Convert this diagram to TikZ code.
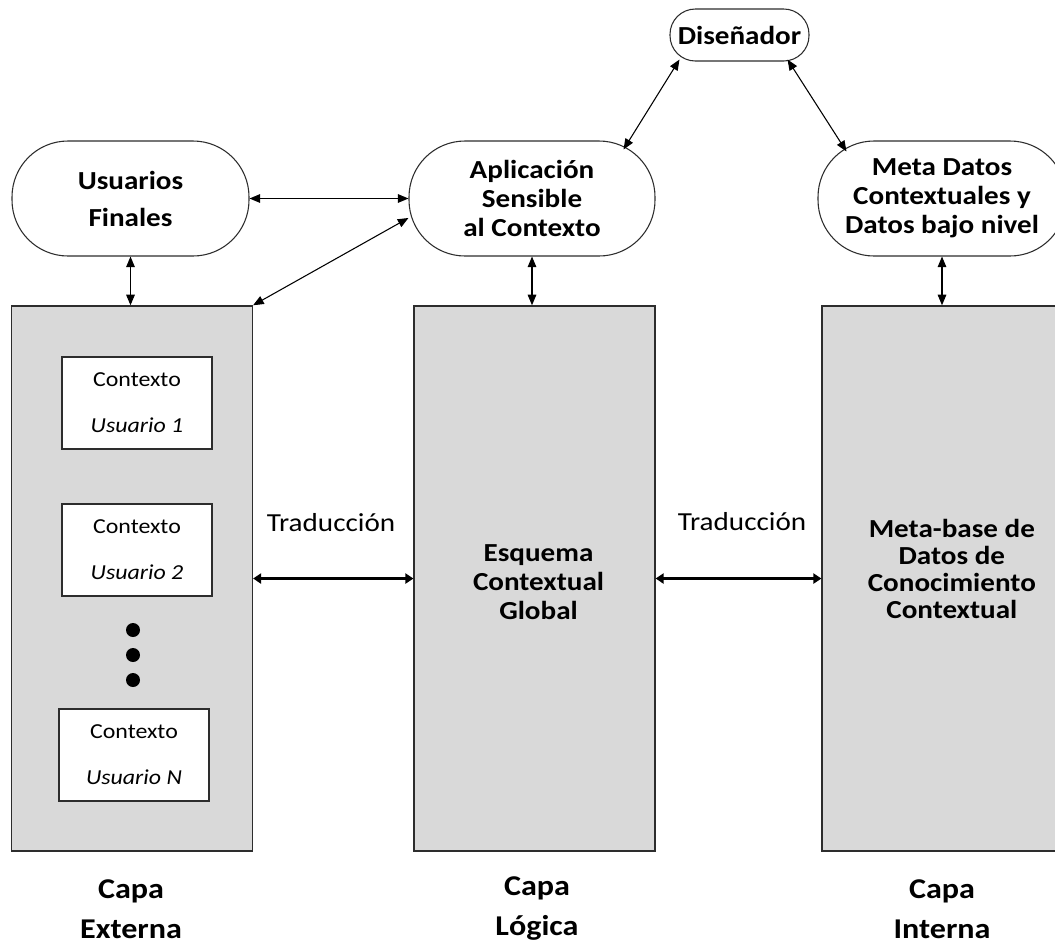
\documentclass[tikz,border=0pt]{standalone}
\usepackage{fontspec}
\setmainfont{Carlito}[FakeStretch=1.12]
\usetikzlibrary{arrows.meta}
\definecolor{layergray}{RGB}{217,217,217}
\definecolor{edgegray}{RGB}{45,45,45}
\begin{document}
\begin{tikzpicture}[x=0.75pt,y=-0.75pt,
  pill/.style={draw=edgegray, line width=0.8pt, fill=white, inner sep=0pt, align=center,
    minimum height=86.25pt, rounded corners=42pt,
    font=\bfseries\fontsize{19.5}{21.75}\selectfont},
  layer/.style={draw=edgegray, line width=1.1pt, fill=layergray, inner sep=0pt,
    minimum width=180.5pt, minimum height=408.75pt},
  layertext/.style={inner sep=0pt, align=center, font=\bfseries\fontsize{19.5}{21.75}\selectfont},
  ctxbox/.style={draw=edgegray, line width=1.1pt, fill=white, inner sep=0pt,
    minimum width=112.5pt, minimum height=69pt, align=center,
    font=\fontsize{16}{34.5}\selectfont},
  dotmark/.style={circle, fill=black, inner sep=0pt, minimum size=10.5pt},
  caption/.style={inner sep=0pt, align=center, font=\bfseries\fontsize{21.5}{30}\selectfont},
  transltext/.style={inner sep=0pt, font=\fontsize{19.5}{22}\selectfont},
  link/.style={draw=black, line width=0.8pt,
    {Triangle[length=8pt,width=6.5pt]}-{Triangle[length=8pt,width=6.5pt]}},
  transl/.style={draw=black, line width=1.6pt,
    {Triangle[length=6pt,width=7.5pt]}-{Triangle[length=6pt,width=7.5pt]}}
]
\useasboundingbox (0,0) rectangle (1055,947);

% upper row: actors and applications
\node[pill, minimum width=104.25pt, minimum height=39pt, rounded corners=19pt] (dis) at (739.5,35) {Diseñador};
\node[pill, minimum width=177.75pt, font=\bfseries\fontsize{19.5}{27.75}\selectfont] (uf) at (130.5,198.5) {Usuarios\\Finales};
\node[pill, minimum width=184.5pt] (app) at (532,198.5) {Aplicación\\Sensible\\al Contexto};
\node[pill, minimum width=186pt] (meta) at (942,198.5) {Meta Datos\\Contextuales y\\Datos bajo nivel};

% the three layers
\node[layer] (ext) at (132,578.5) {};
\node[layer] (log) at (534.5,578.5) {};
\node[layer] (int) at (942.5,578.5) {};

\node[layertext] (logtxt) at ([xshift=3pt,yshift=-2.5pt]log.center) {Esquema\\Contextual\\Global};
\node[layertext, font=\bfseries\fontsize{19.5}{20.25}\selectfont] (inttxt) at ([xshift=7pt,yshift=7.5pt]int.center) {Meta-base de\\Datos de\\Conocimiento\\Contextual};

% user contexts inside the external layer
\node[ctxbox] (c1) at (137,403) {Contexto\\\textit{Usuario 1}};
\node[ctxbox] (c2) at (137,550) {Contexto\\\textit{Usuario 2}};
\node[dotmark] (d1) at (133,630) {};
\node[dotmark] (d2) at (133,655) {};
\node[dotmark] (d3) at (133,680) {};
\node[ctxbox] (cn) at (134,755) {Contexto\\\textit{Usuario N}};

% layer captions
\node[caption] (capext) at (131,909) {Capa\\Externa};
\node[caption] (caplog) at (537,909) {Capa\\Lógica};
\node[caption] (capint) at (942,909) {Capa\\Interna};

% translation labels
\node[transltext] (tr1) at (331,523) {Traducción};
\node[transltext] (tr2) at (742,522) {Traducción};

% connectors
\draw[link] (uf) -- (app);
\draw[link] (uf.south) -- (uf.south |- ext.north);
\draw[link] (app.south) -- (app.south |- log.north);
\draw[link] (meta.south) -- (meta.south |- int.north);
\draw[link] (ext.north east) -- ([yshift=-14.6pt]app.west);
\draw[link] ([xshift=7.5pt,yshift=1.5pt]dis.south west) -- ([xshift=-24pt,yshift=-6.75pt]app.north east);
\draw[link] ([xshift=-16.5pt,yshift=1.5pt]dis.south east) -- ([xshift=21.75pt,yshift=-8.25pt]meta.north west);
\draw[transl] (ext) -- (log);
\draw[transl] (log) -- (int);
\end{tikzpicture}
\end{document}
